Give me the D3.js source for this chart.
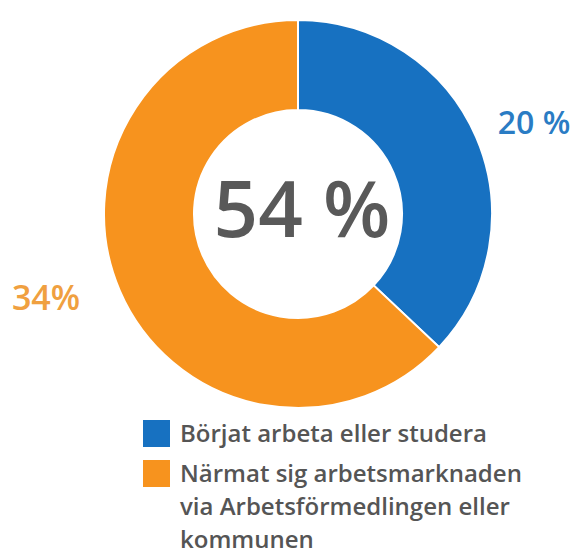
<!DOCTYPE html>
<html><head><meta charset="utf-8">
<script src="https://cdn.jsdelivr.net/npm/d3@7"></script>
<style>body{margin:0;background:#fff}svg{display:block}</style>
</head><body>
<script>
const categories = ["Börjat arbeta eller studera", "Närmat sig arbetsmarknaden via Arbetsförmedlingen eller kommunen"];
const values = [20, 34];
const valueLabels = ["20 %", "34%"];
const totalLabel = "54 %";
const colors = ["#1771c1", "#f7931e"];
const labelColors = ["#2a7cc4", "#f0a040"];
const legendLines = [["Börjat arbeta eller studera"], ["Närmat sig arbetsmarknaden", "via Arbetsförmedlingen eller", "kommunen"]];

const W = 576, H = 554;
const svg = d3.select("body").append("svg").attr("width", W).attr("height", H);
const cx = 298, cy = 214, R = 194, r = 104;
const g = svg.append("g").attr("transform", `translate(${cx},${cy})`);
const pie = d3.pie().sort(null).value(d => d)(values);
const arc = d3.arc().innerRadius(r).outerRadius(R);
g.selectAll("path").data(pie).join("path")
  .attr("d", arc).attr("fill", (d, i) => colors[i])
  .attr("stroke", "#fff").attr("stroke-width", 2);

const font = "'Open Sans', sans-serif";
g.append("text").attr("x", 4).attr("y", 23).attr("text-anchor", "middle")
  .attr("font-family", font).attr("font-weight", 600).attr("font-size", 78)
  .attr("fill", "#595959").text(totalLabel);

svg.append("text").attr("x", 534).attr("y", 134).attr("text-anchor", "middle")
  .attr("font-family", font).attr("font-weight", 600).attr("font-size", 32)
  .attr("fill", labelColors[0]).text(valueLabels[0]);
svg.append("text").attr("x", 46).attr("y", 310).attr("text-anchor", "middle")
  .attr("font-family", font).attr("font-weight", 600).attr("font-size", 34)
  .attr("fill", labelColors[1]).text(valueLabels[1]);

const lg = svg.append("g");
const itemY = [420, 460];
legendLines.forEach((lines, i) => {
  lg.append("rect").attr("x", 143).attr("y", itemY[i]).attr("width", 27).attr("height", 27).attr("fill", colors[i]);
  lines.forEach((t, j) => {
    lg.append("text").attr("x", 180).attr("y", itemY[i] + 22 + j * 33)
      .attr("font-family", font).attr("font-weight", 600).attr("font-size", 24)
      .attr("fill", "#555").text(t);
  });
});
</script>
</body></html>
